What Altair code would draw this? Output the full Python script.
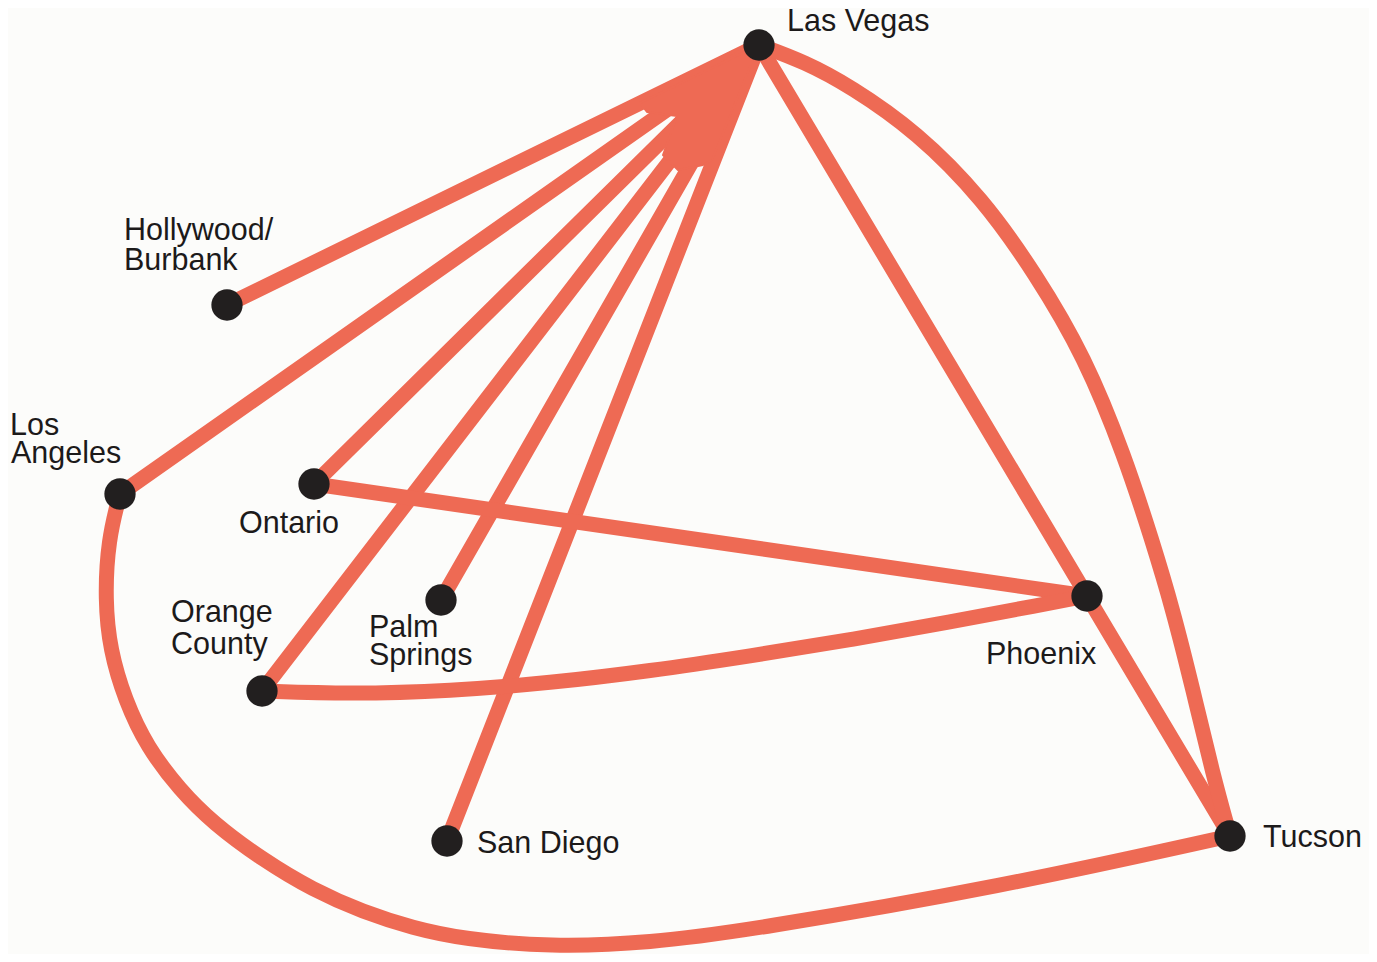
import altair as alt
import pandas as pd

# ---- cities (image pixel positions) ----
cities = ["Las Vegas", "Hollywood/Burbank", "Los Angeles", "Ontario", "Palm Springs",
          "Orange County", "San Diego", "Phoenix", "Tucson"]
city_x = [759, 227, 120, 314, 441, 262, 447, 1087, 1230]
city_y = [45, 305, 494, 484, 600, 691, 841, 596, 836]

# ---- labels ----
label_text = ["Las Vegas", "Hollywood/", "Burbank", "Los", "Angeles", "Ontario",
              "Orange", "County", "Palm", "Springs", "Phoenix", "Tucson", "San Diego"]
label_x = [787, 124, 124, 10, 11, 239, 171, 171, 369, 369, 986, 1263, 477]
label_y = [31, 240, 270, 435, 463, 533, 622, 654, 637, 665, 664, 847, 853]

# ---- straight routes ----
route_from = ["Las Vegas", "Las Vegas", "Las Vegas", "Las Vegas", "Las Vegas",
              "Las Vegas", "Las Vegas", "Ontario", "Phoenix"]
route_to = ["Hollywood/Burbank", "Los Angeles", "Ontario", "Orange County", "Palm Springs",
            "San Diego", "Phoenix", "Phoenix", "Tucson"]

# ---- curved routes (waypoints) ----
lv_tucson_x = [759, 759, 805, 850, 917, 983, 1035, 1085, 1125, 1152, 1173, 1193, 1213, 1230, 1230]
lv_tucson_y = [45, 45, 62, 86, 132, 199, 273, 357, 457, 540, 610, 690, 775, 836, 836]

la_tucson_x = [120, 120, 108, 105, 110, 125, 147, 180, 213, 263, 313, 363, 413, 463,
               550, 650, 750, 1000, 1230, 1230]
la_tucson_y = [494, 494, 540, 600, 650, 700, 747, 790, 823, 860, 890, 912, 928, 939,
               947, 943, 930, 887, 836, 836]

oc_phoenix_x = [262, 262, 350, 450, 550, 650, 750, 850, 950, 1040, 1087, 1087]
oc_phoenix_y = [691, 691, 694, 691, 683, 671, 656, 640, 622, 605, 596, 596]

# ---- solid fan where the Las Vegas spokes merge ----
hub_fan_x = [759, 640, 647, 677, 663, 678, 703, 712, 759]
hub_fan_y = [45, 103, 112, 116, 155, 170, 165, 160, 45]

LINE = "#ee6a54"
DOT = "#221f1f"
BG = "#fcfcfa"

pos = dict(zip(cities, zip(city_x, city_y)))

rows = []
rid = 0
for a, b in zip(route_from, route_to):
    for i, c in enumerate([a, b]):
        rows.append({"route": f"r{rid}", "order": i, "x": pos[c][0], "y": pos[c][1]})
    rid += 1
routes = pd.DataFrame(rows)

crows = []
for xs_, ys_ in [(lv_tucson_x, lv_tucson_y), (la_tucson_x, la_tucson_y), (oc_phoenix_x, oc_phoenix_y)]:
    for i, (x, y) in enumerate(zip(xs_, ys_)):
        crows.append({"route": f"r{rid}", "order": i, "x": x, "y": y})
    rid += 1
curves = pd.DataFrame(crows)

fan = pd.DataFrame({"order": list(range(len(hub_fan_x))), "x": hub_fan_x, "y": hub_fan_y})
nodes = pd.DataFrame({"city": cities, "x": city_x, "y": city_y})
labels = pd.DataFrame({"text": label_text, "x": label_x, "y": label_y})

W, H = 1361, 946
xs = alt.Scale(domain=[8, 8 + W], nice=False, zero=False)
ys = alt.Scale(domain=[8, 8 + H], nice=False, zero=False, reverse=True)
X = lambda: alt.X("x:Q", scale=xs, axis=None)
Y = lambda: alt.Y("y:Q", scale=ys, axis=None)

lines = alt.Chart(routes).mark_line(
    color=LINE, strokeWidth=15, strokeCap="round", strokeJoin="round"
).encode(x=X(), y=Y(), detail="route:N", order="order:Q")

curve_lines = alt.Chart(curves).mark_line(
    color=LINE, strokeWidth=15, strokeCap="round", strokeJoin="round",
    interpolate="basis"
).encode(x=X(), y=Y(), detail="route:N", order="order:Q")

fan_layer = alt.Chart(fan).mark_line(
    stroke=LINE, fill=LINE, strokeWidth=2, strokeJoin="round"
).encode(x=X(), y=Y(), order="order:Q")

dots = alt.Chart(nodes).mark_circle(size=980, color=DOT, opacity=1).encode(x=X(), y=Y())

texts = alt.Chart(labels).mark_text(
    align="left", baseline="alphabetic", font="Liberation Sans", fontSize=30.5,
    color="#1c1a1a"
).encode(x=X(), y=Y(), text="text:N")

chart = alt.layer(lines, curve_lines, fan_layer, dots, texts).properties(
    width=W, height=H, padding=0, background=BG,
    autosize=alt.AutoSizeParams(type="none")
).configure_view(strokeWidth=0)

chart.save("out.html", embed_options={"renderer": "svg", "actions": False})
